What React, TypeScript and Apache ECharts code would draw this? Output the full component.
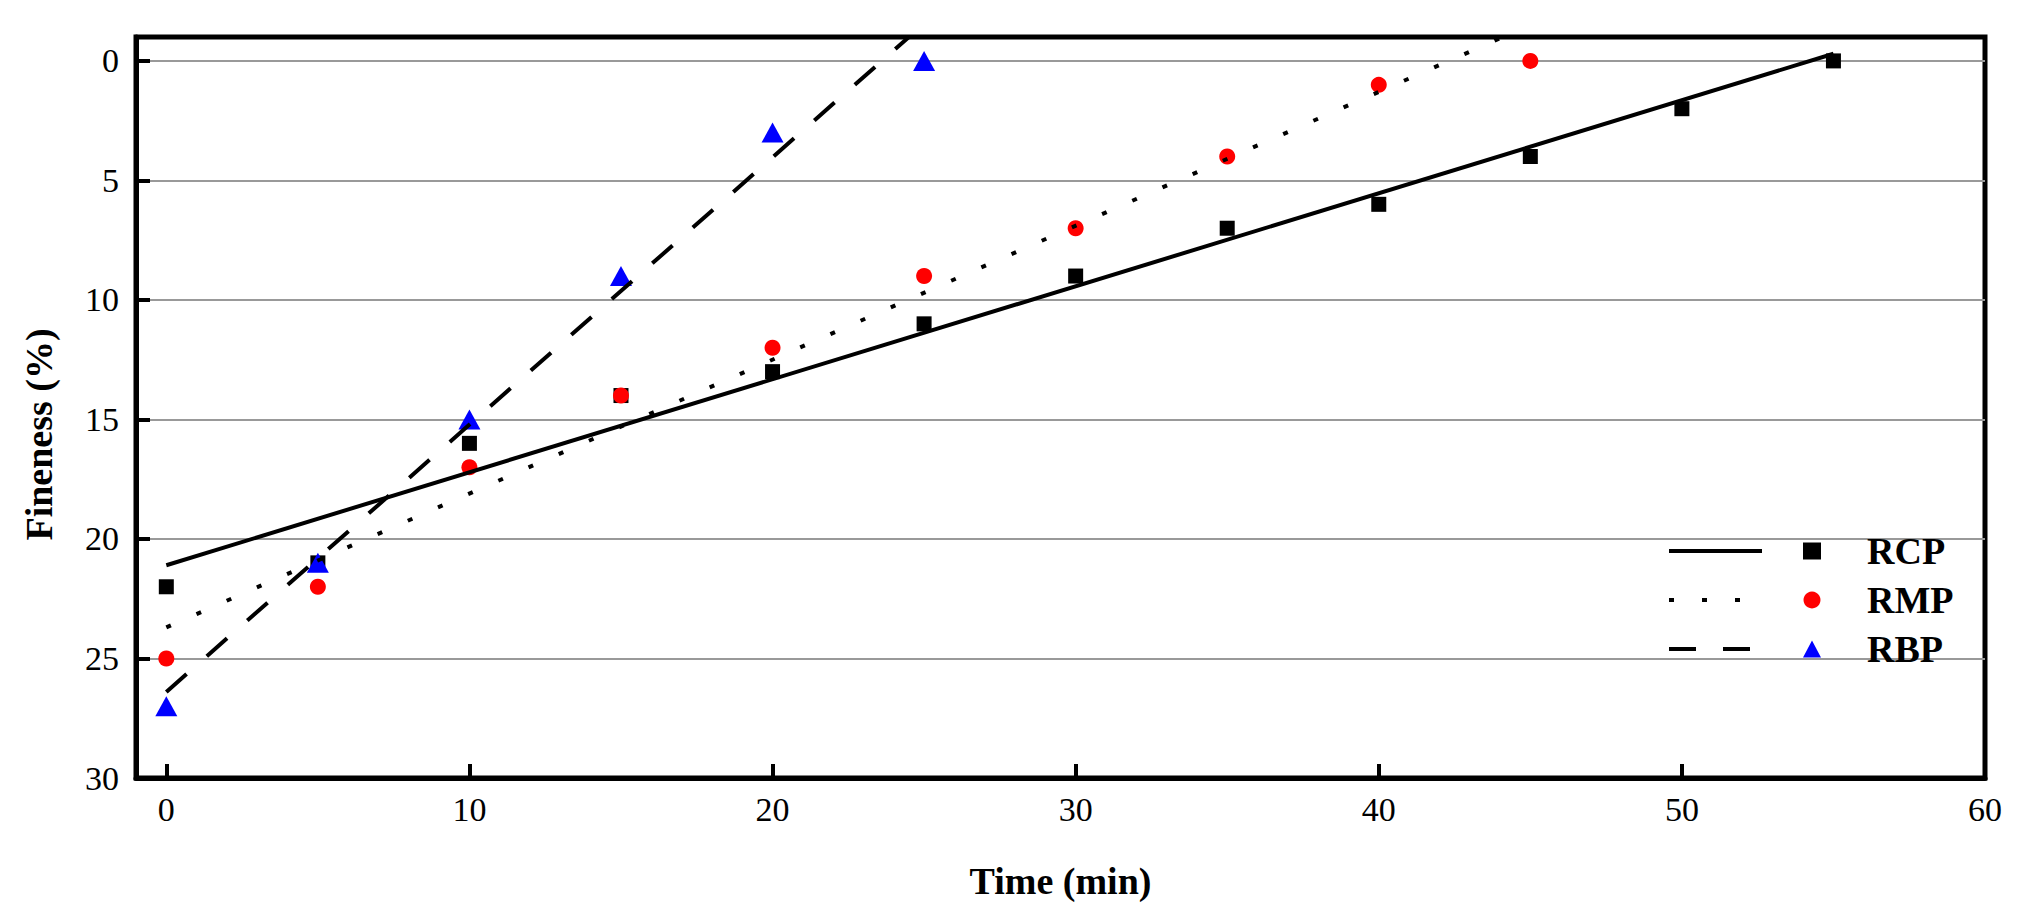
import React, { useEffect, useRef } from 'react';
import * as echarts from 'echarts';

const seriesNames = ['RCP', 'RMP', 'RBP'];
const fitNames = ['RCP fit', 'RMP fit', 'RBP fit'];

const timeRCP = [0, 5, 10, 15, 20, 25, 30, 35, 40, 45, 50, 55];
const finenessRCP = [22, 21, 16, 14, 13, 11, 9, 7, 6, 4, 2, 0];
const timeRMP = [0, 5, 10, 15, 20, 25, 30, 35, 40, 45];
const finenessRMP = [25, 22, 17, 14, 12, 9, 7, 4, 1, 0];
const timeRBP = [0, 5, 10, 15, 20, 25];
const finenessRBP = [27, 21, 15, 9, 3, 0];

// fitted lines, endpoints
const fitRCP = [[0, 21.1], [55, -0.3]];
const fitRMP = [[0, 23.7], [44.1, -1]];
const fitRBP = [[0, 26.4], [24.5, -1]];

const xTicks = [0, 10, 20, 30, 40, 50, 60];
const yTicks = [0, 5, 10, 15, 20, 25, 30];

const FONT = "'Liberation Serif', 'Times New Roman', serif";

export default function App() {
  const ref = useRef<HTMLDivElement>(null);
  useEffect(() => {
    if (!ref.current) return;
    const chart = echarts.init(ref.current, undefined, { renderer: 'svg' });
    const pts = (xs: number[], ys: number[]) => xs.map((x, i) => [x, ys[i]]);
    const option: any = {
      animation: false,
      backgroundColor: '#fff',
      grid: {
        left: 136,
        right: 32,
        top: 37,
        bottom: 135,
        show: true,
        borderColor: '#000',
        borderWidth: 5,
        containLabel: false,
        outerBoundsMode: 'none',
      },
      legend: [
        {
          orient: 'vertical',
          left: 1667,
          top: 536,
          padding: 0,
          itemWidth: 93,
          itemHeight: 30,
          itemGap: 22,
          selectedMode: false,
          data: fitNames,
          formatter: () => '',
          itemStyle: { opacity: 0 },
          lineStyle: { width: 4, color: '#000', opacity: 1 },
          textStyle: { fontFamily: FONT, fontSize: 12 },
        },
        {
          orient: 'vertical',
          left: 1803,
          top: 532,
          padding: 0,
          itemWidth: 18,
          itemHeight: 17,
          itemGap: 11,
          selectedMode: false,
          data: seriesNames,
          itemStyle: { opacity: 1 },
          textStyle: {
            fontFamily: FONT,
            fontSize: 38,
            fontWeight: 'bold',
            color: '#000',
            lineHeight: 38,
            padding: [0, 0, 0, 41],
          },
        },
      ],
      xAxis: {
        type: 'value',
        min: -1,
        max: 60,
        name: 'Time (min)',
        nameLocation: 'middle',
        nameGap: 84,
        nameTextStyle: { fontFamily: FONT, fontSize: 38, fontWeight: 'bold', color: '#000' },
        axisLine: { show: true, onZero: false, lineStyle: { color: '#000', width: 5 } },
        axisTick: { show: true, inside: true, length: 14, customValues: xTicks, lineStyle: { color: '#000', width: 4 } },
        axisLabel: { customValues: xTicks, margin: 14, fontFamily: FONT, fontSize: 34, color: '#000' },
        splitLine: { show: false },
      },
      yAxis: {
        type: 'value',
        inverse: true,
        min: -1,
        max: 30,
        name: 'Fineness (%)',
        nameLocation: 'middle',
        nameRotate: 90,
        nameGap: 78,
        nameTextStyle: { fontFamily: FONT, fontSize: 38, fontWeight: 'bold', color: '#000', padding: [0, 54, 0, 0] },
        axisLine: { show: true, onZero: false, lineStyle: { color: '#000', width: 5 } },
        axisTick: { show: true, inside: true, length: 14, customValues: yTicks, lineStyle: { color: '#000', width: 4 } },
        axisLabel: { customValues: yTicks, margin: 17, fontFamily: FONT, fontSize: 34, color: '#000' },
        splitLine: { show: true, lineStyle: { color: '#999', width: 2 } },
      },
      series: [
        {
          name: 'RCP', type: 'scatter', symbol: 'rect', symbolSize: 15,
          itemStyle: { color: '#000', opacity: 1 }, data: pts(timeRCP, finenessRCP),
        },
        {
          name: 'RMP', type: 'scatter', symbol: 'circle', symbolSize: 16,
          itemStyle: { color: '#ff0000', opacity: 1 }, data: pts(timeRMP, finenessRMP),
        },
        {
          name: 'RBP', type: 'scatter', symbol: 'triangle', symbolSize: [22, 20],
          itemStyle: { color: '#0000ff', opacity: 1 }, data: pts(timeRBP, finenessRBP),
        },
        {
          name: 'RCP fit', type: 'line', symbol: 'none', showSymbol: false,
          lineStyle: { color: '#000', width: 4, type: 'solid' }, itemStyle: { color: '#000' },
          data: fitRCP,
        },
        {
          name: 'RMP fit', type: 'line', symbol: 'none', showSymbol: false,
          lineStyle: { color: '#000', width: 4, type: [5, 28] }, itemStyle: { color: '#000' },
          data: fitRMP,
        },
        {
          name: 'RBP fit', type: 'line', symbol: 'none', showSymbol: false,
          lineStyle: { color: '#000', width: 4, type: [27, 27] }, itemStyle: { color: '#000' },
          data: fitRBP,
        },
      ],
    };
    chart.setOption(option);
    return () => chart.dispose();
  }, []);
  return (
    <div
      ref={ref}
      style={{ position: 'fixed', left: 0, top: 0, width: 2017, height: 913 }}
    />
  );
}
